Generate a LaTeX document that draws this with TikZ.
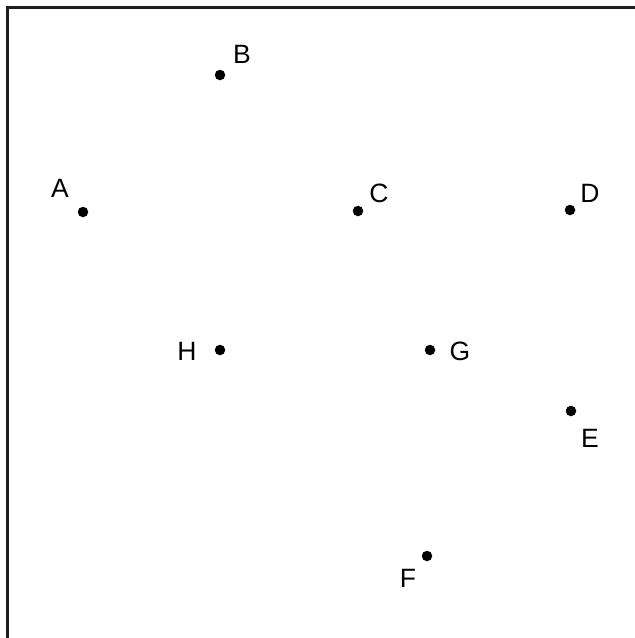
\documentclass[tikz,border=0pt]{standalone}
\usepackage{fontspec}
\setmainfont{Liberation Sans}
\begin{document}
\begin{tikzpicture}[x=1pt,y=-1pt,
  pt/.style={circle,fill=black,inner sep=0pt,minimum size=10.5pt},
  lbl/.style={font=\fontsize{26.5}{26.5}\selectfont,inner sep=0pt}]
\useasboundingbox (0,0) rectangle (635,638);
\draw[line width=2.5pt,color=black!88] (7.5,638) -- (7.5,7.5) -- (635,7.5);
\node[pt] (A) at (83,212) {};
\node[pt] (B) at (220,75) {};
\node[pt] (C) at (358,211) {};
\node[pt] (D) at (570,210) {};
\node[pt] (H) at (220,350) {};
\node[pt] (G) at (430,350) {};
\node[pt] (E) at (571,411) {};
\node[pt] (F) at (427,556) {};
\node[lbl] (lA) at (60,188) {A};
\node[lbl] (lB) at (242,54) {B};
\node[lbl] (lC) at (379,193) {C};
\node[lbl] (lD) at (590,193) {D};
\node[lbl] (lH) at (187,351) {H};
\node[lbl] (lG) at (460,351) {G};
\node[lbl] (lE) at (590,438) {E};
\node[lbl] (lF) at (408,578) {F};
\end{tikzpicture}
\end{document}
